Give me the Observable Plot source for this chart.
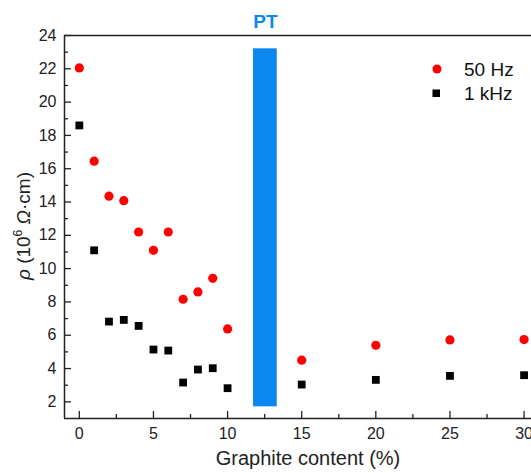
<!DOCTYPE html>
<html>
<head>
<meta charset="utf-8">
<script src="https://cdn.jsdelivr.net/npm/d3@7"></script>
<script src="https://cdn.jsdelivr.net/npm/@observablehq/plot@0.6"></script>
<style>
  html, body { margin: 0; padding: 0; background: #fff; overflow: hidden; }
  #chart { position: relative; width: 531px; height: 473px; }
</style>
</head>
<body>
<div id="chart"></div>
<script>
// ---- data ----
const graphite = [0, 1, 2, 3, 4, 5, 6, 7, 8, 9, 10, 15, 20, 25, 30];
const rho50Hz  = [22.05, 16.45, 14.35, 14.08, 12.2, 11.1, 12.2, 8.16, 8.6, 9.42, 6.38, 4.5, 5.4, 5.72, 5.74];
const rho1kHz  = [18.6, 11.1, 6.82, 6.92, 6.56, 5.14, 5.08, 3.16, 3.94, 4.02, 2.82, 3.04, 3.32, 3.56, 3.6];
const seriesNames = ["50 Hz", "1 kHz"];
const xTicks = [0, 5, 10, 15, 20, 25, 30];
const xMinorTicks = [2.5, 7.5, 12.5, 17.5, 22.5, 27.5];
const yTicks = [2, 4, 6, 8, 10, 12, 14, 16, 18, 20, 22, 24];
const yMinorTicks = [3, 5, 7, 9, 11, 13, 15, 17, 19, 21, 23];
const xDomain = [-1, 30.5];
const yDomain = [1, 24];
const ptBand = [{x1: 11.75, x2: 13.35, y1: 1.7, y2: 23.2, label: "PT"}];

const pts50 = graphite.map((g, i) => ({g, v: rho50Hz[i]}));
const pts1k = graphite.map((g, i) => ({g, v: rho1kHz[i]}));

const axisColor = "#222";
const ptColor = "#0a88f0";

const plot = Plot.plot({
  width: 531,
  height: 473,
  marginLeft: 64,
  marginRight: 0,
  marginTop: 35,
  marginBottom: 55,
  style: {fontFamily: "Liberation Sans, Arial, sans-serif", fontSize: "16px", color: axisColor, background: "#fff"},
  x: {domain: xDomain},
  y: {domain: yDomain},
  marks: [
    Plot.rect(ptBand, {x1: "x1", x2: "x2", y1: "y1", y2: "y2", fill: ptColor}),
    Plot.text(ptBand, {x: d => (d.x1 + d.x2) / 2, y: "y2", text: "label", dy: -27, fill: ptColor, fontWeight: "bold", fontSize: 19}),
    Plot.axisY({ticks: yTicks, tickSize: -7, tickPadding: 15, label: null, stroke: axisColor, strokeWidth: 1.3}),
    Plot.axisY({ticks: yMinorTicks, tickSize: -4, tickFormat: () => "", label: null, stroke: axisColor, strokeWidth: 1.3}),
    Plot.axisX({ticks: xTicks, tickSize: -7, tickPadding: 16, label: null, stroke: axisColor, strokeWidth: 1.3}),
    Plot.axisX({ticks: xMinorTicks, tickSize: -4, tickFormat: () => "", label: null, stroke: axisColor, strokeWidth: 1.3}),
    Plot.ruleX([xDomain[0]], {stroke: axisColor, strokeWidth: 1.5}),
    Plot.ruleY([yDomain[0]], {stroke: axisColor, strokeWidth: 1.5}),
    Plot.ruleY([yDomain[1]], {stroke: axisColor, strokeWidth: 1.5}),
    Plot.dot(pts50, {x: "g", y: "v", r: 4.6, fill: "#ff0000", stroke: "none"}),
    Plot.dot(pts1k, {x: "g", y: "v", symbol: "square", r: 4.4, fill: "#000", stroke: "none"})
  ]
});

document.getElementById("chart").appendChild(plot);

const svg = d3.select(plot);

// y-axis label
const yl = svg.append("text")
  .attr("transform", "translate(30,226) rotate(-90)")
  .attr("text-anchor", "middle")
  .attr("font-size", 19)
  .attr("fill", axisColor);
yl.append("tspan").attr("font-style", "italic").text("ρ");
yl.append("tspan").text(" (10");
yl.append("tspan").attr("font-size", 12).attr("dy", -8).text("6");
yl.append("tspan").attr("dy", 8).text(" ");
yl.append("tspan").attr("font-style", "italic").text("Ω");
yl.append("tspan").text("·cm)");

// x-axis label
svg.append("text")
  .attr("x", 308).attr("y", 465)
  .attr("text-anchor", "middle")
  .attr("font-size", 20)
  .attr("fill", axisColor)
  .text("Graphite content (%)");

// legend
const lg = svg.append("g").attr("font-size", 19).attr("fill", "#111").attr("text-anchor", "start");
lg.append("circle").attr("cx", 437).attr("cy", 69).attr("r", 4.5).attr("fill", "#ff0000");
lg.append("text").attr("x", 464).attr("y", 69).attr("dy", "0.35em").text(seriesNames[0]);
lg.append("rect").attr("x", 432.5).attr("y", 89.5).attr("width", 7.5).attr("height", 7.5).attr("fill", "#000");
lg.append("text").attr("x", 464).attr("y", 93).attr("dy", "0.35em").text(seriesNames[1]);
</script>
</body>
</html>
